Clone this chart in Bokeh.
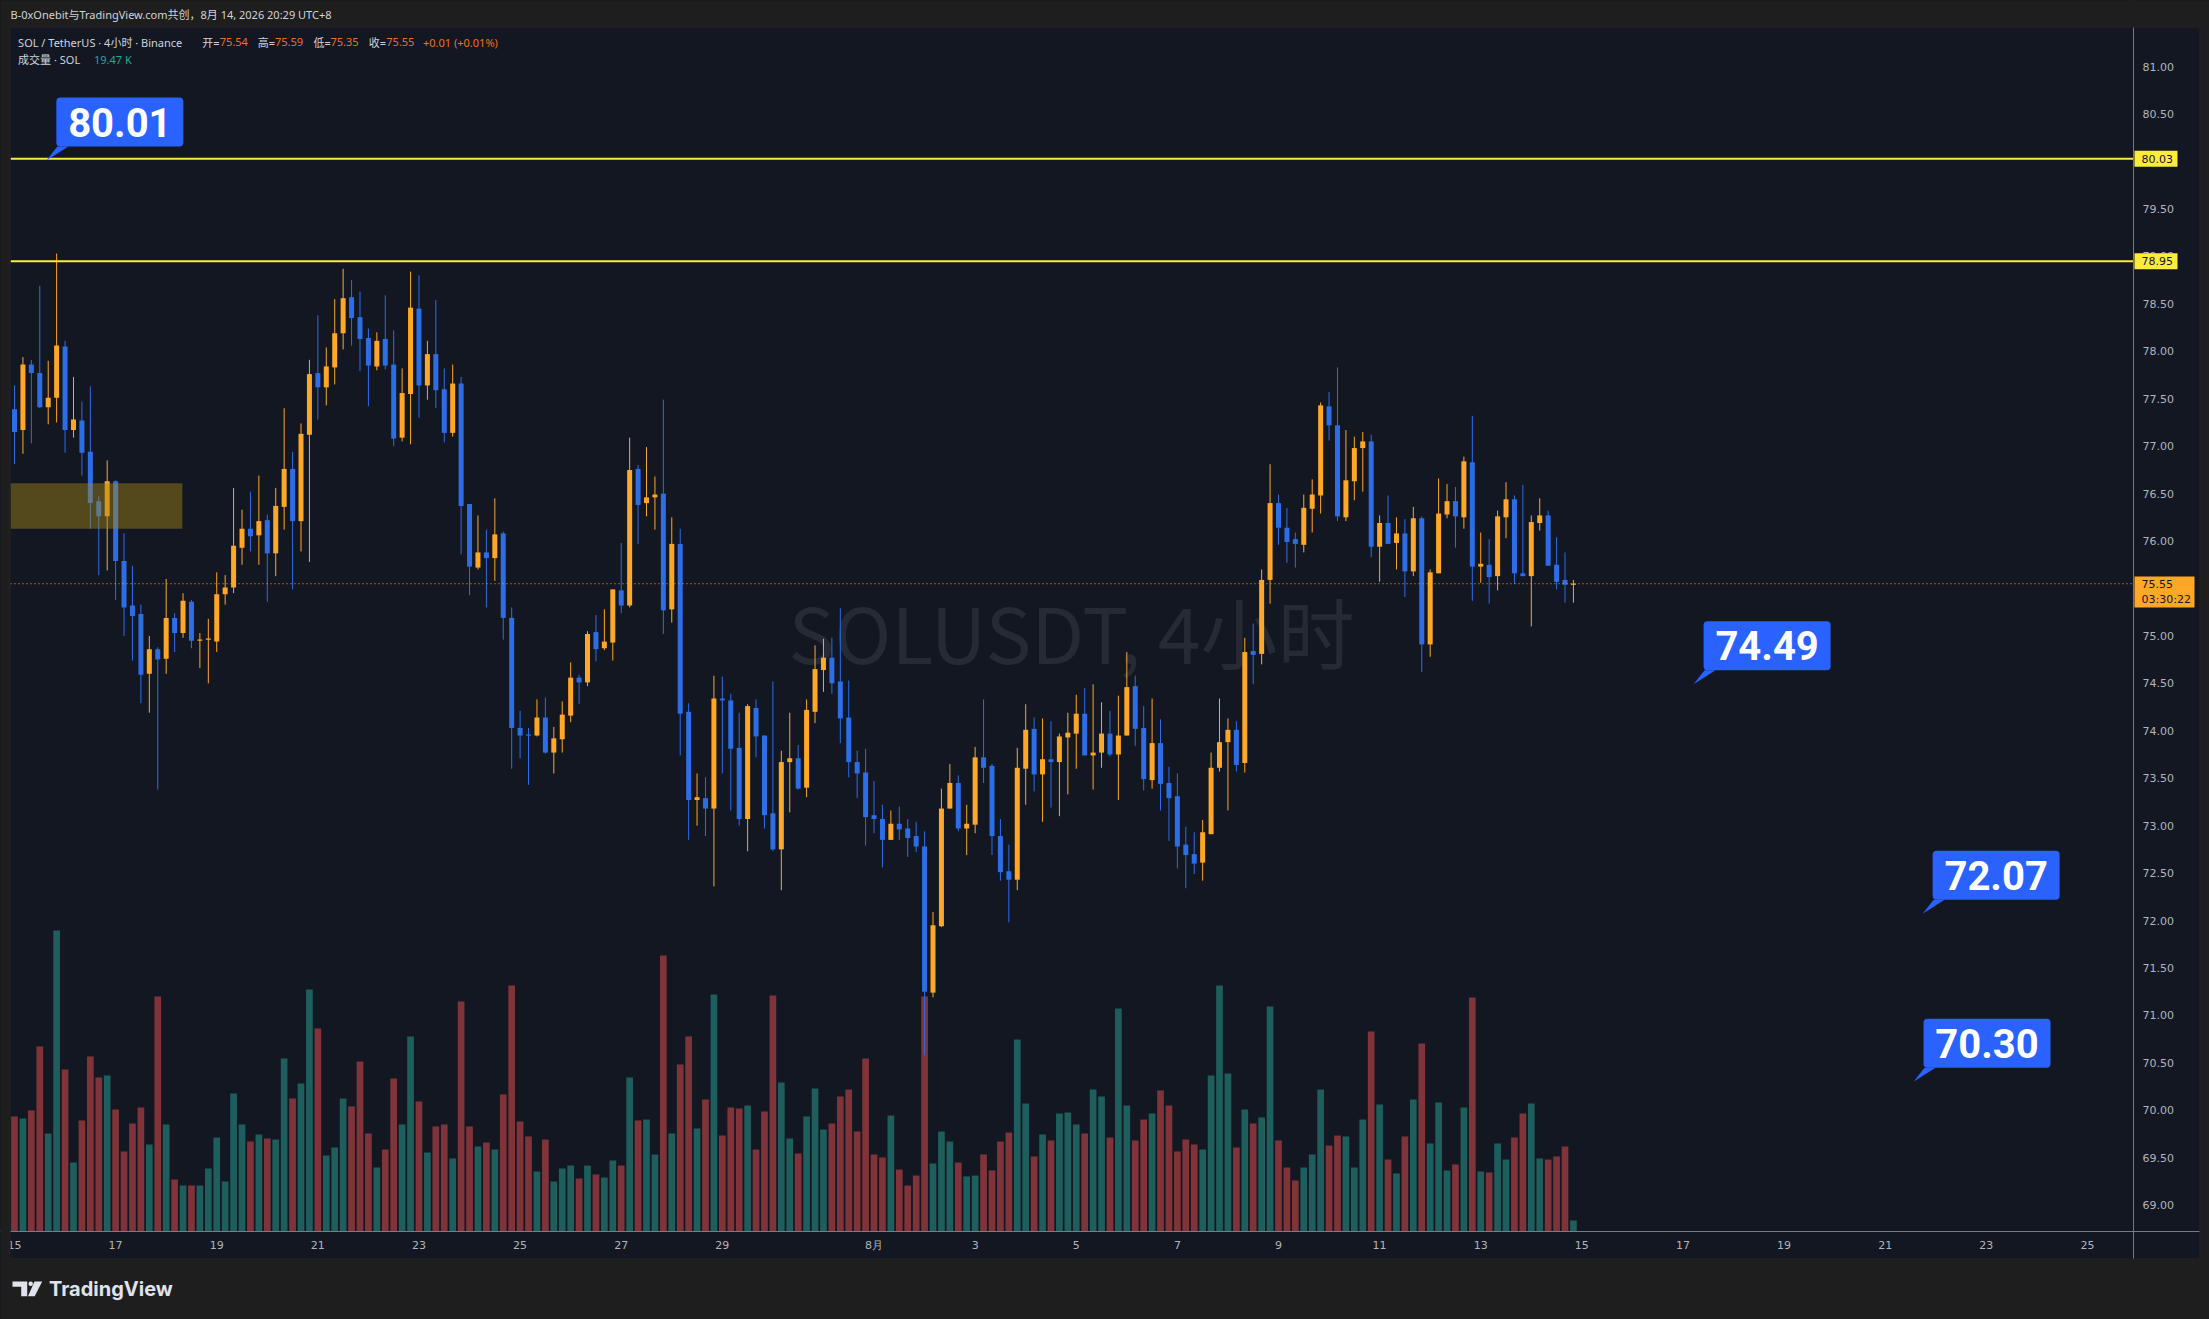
import numpy as np
from bokeh.plotting import figure
from bokeh.models import (Range1d, FixedTicker, NumeralTickFormatter, BoxAnnotation,
                          PolyAnnotation, Label, ColumnDataSource)
from bokeh.embed import file_html
from bokeh.resources import INLINE

# ---------------- data (SOL/USDT 4h, Binance) ----------------
opens = [77.39, 77.17, 77.86, 77.77, 77.41, 77.51, 78.05, 77.17, 77.27, 76.94,
         76.42, 76.26, 76.63, 75.79, 75.32, 75.23, 74.60, 74.86, 74.76, 75.19,
         75.03, 75.36, 74.95, 74.96, 74.94, 75.44, 75.51, 75.93, 76.13, 76.06,
         76.22, 75.87, 76.36, 76.76, 76.21, 77.12, 77.77, 77.62, 77.83, 78.19,
         78.57, 78.36, 78.14, 77.84, 78.13, 77.86, 77.09, 77.55, 78.45, 77.64,
         77.97, 77.60, 77.14, 77.66, 76.39, 75.72, 75.88, 75.82, 76.08, 75.19,
         74.03, 73.96, 73.95, 74.14, 73.77, 73.91, 74.16, 74.56, 74.51, 75.04,
         74.87, 74.93, 75.48, 75.32, 76.76, 76.40, 76.46, 76.50, 75.28, 75.97,
         74.20, 73.27, 73.29, 73.18, 74.34, 74.32, 73.82, 73.07, 74.24, 73.95,
         73.13, 72.75, 73.67, 73.71, 73.40, 74.20, 74.64, 74.77, 74.52, 74.14,
         73.67, 73.56, 73.11, 73.07, 72.85, 73.02, 72.97, 72.89, 72.78, 71.24,
         71.94, 73.18, 73.45, 72.97, 73.01, 73.72, 73.63, 72.89, 72.52, 72.43,
         73.60, 74.02, 73.54, 73.70, 73.67, 73.93, 73.97, 74.18, 73.74, 73.77,
         73.97, 73.75, 73.95, 74.47, 74.03, 73.48, 73.87, 73.45, 73.31, 72.80,
         72.70, 72.61, 72.91, 73.61, 73.88, 74.01, 73.66, 74.84, 74.81, 75.59,
         76.40, 76.14, 76.02, 75.96, 76.34, 76.48, 77.42, 77.22, 76.25, 76.63,
         76.98, 77.05, 75.94, 76.19, 75.98, 76.08, 75.68, 76.24, 74.91, 75.66,
         76.28, 76.42, 76.25, 76.83, 75.73, 75.75, 75.63, 76.25, 76.44, 75.66,
         75.63, 76.19, 76.27, 75.75, 75.59, 75.54]
highs = [77.64, 77.94, 77.91, 78.69, 77.90, 79.03, 78.11, 77.73, 77.47, 77.63,
         76.47, 76.85, 76.64, 76.08, 75.74, 75.33, 75.00, 74.88, 75.60, 75.24,
         75.45, 75.38, 75.03, 75.18, 75.67, 75.64, 76.56, 76.33, 76.52, 76.69,
         76.28, 76.56, 77.40, 76.94, 77.24, 77.91, 78.38, 78.04, 78.55, 78.87,
         78.75, 78.63, 78.24, 78.20, 78.59, 78.22, 77.82, 78.84, 78.80, 78.11,
         78.54, 77.82, 77.86, 77.73, 76.39, 76.27, 76.12, 76.45, 76.10, 75.30,
         74.21, 74.03, 74.33, 74.35, 74.04, 74.31, 74.72, 74.59, 75.05, 75.22,
         75.28, 75.49, 75.98, 77.09, 76.80, 76.99, 76.68, 77.49, 76.25, 76.13,
         74.29, 73.55, 73.51, 74.58, 74.57, 74.39, 74.19, 74.28, 74.33, 73.95,
         74.52, 73.79, 74.19, 73.85, 74.33, 74.90, 74.97, 74.98, 75.29, 74.53,
         73.79, 73.81, 73.47, 73.22, 73.16, 73.20, 73.07, 73.04, 72.94, 72.09,
         73.39, 73.65, 73.53, 73.22, 73.83, 74.33, 73.65, 73.07, 72.80, 73.82,
         74.28, 74.14, 74.13, 74.10, 73.97, 74.19, 74.38, 74.45, 74.49, 74.30,
         74.21, 74.37, 74.83, 74.58, 74.26, 74.34, 74.12, 73.62, 73.55, 72.99,
         72.93, 73.06, 73.77, 74.34, 74.13, 74.10, 74.98, 75.13, 75.70, 76.81,
         76.49, 76.35, 76.09, 76.49, 76.65, 77.46, 77.57, 77.83, 77.17, 77.10,
         77.15, 77.12, 76.27, 76.48, 76.25, 76.23, 76.36, 76.26, 75.70, 76.66,
         76.60, 76.57, 76.89, 77.32, 76.09, 76.02, 76.32, 76.62, 76.48, 76.59,
         76.27, 76.45, 76.32, 76.04, 75.88, 75.59]
lows = [76.81, 76.92, 77.03, 77.40, 77.23, 77.25, 76.93, 77.09, 76.69, 76.13,
        75.64, 75.69, 75.38, 75.00, 74.74, 74.29, 74.19, 73.38, 74.60, 74.83,
        74.98, 74.87, 74.66, 74.50, 74.83, 75.33, 75.45, 75.75, 75.89, 75.75,
        75.36, 75.63, 76.12, 75.49, 75.89, 75.78, 77.28, 77.43, 77.65, 78.02,
        78.06, 77.79, 77.42, 77.80, 77.81, 77.00, 77.05, 77.02, 77.30, 77.49,
        77.40, 77.04, 77.10, 75.86, 75.43, 75.70, 75.30, 75.58, 74.96, 73.60,
        73.71, 73.43, 73.94, 73.76, 73.55, 73.77, 74.09, 74.28, 74.47, 74.73,
        74.85, 74.74, 75.24, 75.30, 75.97, 76.26, 76.12, 75.02, 75.14, 73.74,
        72.85, 73.00, 72.89, 72.36, 73.55, 73.16, 73.00, 72.73, 73.72, 72.97,
        72.73, 72.32, 73.14, 73.38, 73.30, 74.08, 74.41, 74.39, 73.87, 73.51,
        73.29, 72.79, 72.92, 72.56, 72.85, 72.85, 72.67, 72.72, 70.58, 71.19,
        71.93, 73.18, 72.94, 72.69, 72.92, 73.45, 72.69, 72.42, 71.98, 72.32,
        73.22, 73.36, 73.04, 73.19, 73.10, 73.33, 73.60, 73.74, 73.38, 73.61,
        73.73, 73.27, 73.95, 73.84, 73.37, 73.39, 73.16, 72.84, 72.55, 72.34,
        72.49, 72.42, 72.91, 73.57, 73.16, 73.57, 73.56, 74.49, 74.70, 75.34,
        75.96, 75.77, 75.72, 75.88, 76.09, 76.29, 77.06, 76.21, 76.21, 76.43,
        76.52, 75.83, 75.57, 75.97, 75.70, 75.41, 75.63, 74.62, 74.78, 75.66,
        76.24, 75.93, 76.13, 75.37, 75.56, 75.34, 75.48, 76.03, 75.55, 75.63,
        75.10, 76.11, 75.74, 75.49, 75.35, 75.35]
closes = [77.15, 77.86, 77.77, 77.41, 77.51, 78.06, 77.17, 77.28, 76.93, 76.40,
          76.26, 76.63, 75.79, 75.30, 75.21, 74.59, 74.86, 74.75, 75.19, 75.03,
          75.37, 74.95, 74.96, 74.97, 75.44, 75.51, 75.95, 76.13, 76.05, 76.21,
          75.87, 76.37, 76.76, 76.21, 77.13, 77.76, 77.62, 77.84, 78.19, 78.56,
          78.35, 78.13, 77.85, 78.11, 77.85, 77.08, 77.56, 78.46, 77.64, 77.97,
          77.59, 77.14, 77.66, 76.37, 75.73, 75.88, 75.82, 76.07, 75.19, 74.03,
          73.95, 73.95, 74.14, 73.77, 73.92, 74.17, 74.56, 74.51, 75.02, 74.86,
          74.94, 75.49, 75.32, 76.75, 76.38, 76.46, 76.49, 75.27, 75.97, 74.18,
          73.27, 73.30, 73.18, 74.34, 74.32, 73.81, 73.07, 74.26, 73.94, 73.11,
          72.75, 73.67, 73.71, 73.39, 74.22, 74.65, 74.77, 74.50, 74.13, 73.67,
          73.55, 73.09, 73.07, 72.85, 73.02, 72.96, 72.87, 72.78, 71.25, 71.95,
          73.18, 73.45, 72.97, 73.02, 73.72, 73.61, 72.89, 72.51, 72.43, 73.61,
          74.01, 73.54, 73.70, 73.67, 73.94, 73.98, 74.18, 73.74, 73.77, 73.97,
          73.75, 73.95, 74.46, 74.02, 73.49, 73.87, 73.44, 73.29, 72.78, 72.69,
          72.60, 72.93, 73.61, 73.88, 74.01, 73.64, 74.83, 74.80, 75.59, 76.40,
          76.14, 75.99, 75.97, 76.35, 76.49, 77.43, 77.22, 76.26, 76.64, 76.98,
          77.05, 75.94, 76.19, 75.97, 76.08, 75.68, 76.24, 74.91, 75.67, 76.29,
          76.42, 76.26, 76.84, 75.73, 75.76, 75.62, 76.26, 76.44, 75.66, 75.63,
          76.20, 76.27, 75.74, 75.57, 75.54, 75.55]
volumes_k = [203.6, 200.0, 214.2, 327.5, 173.5, 532.8, 286.7, 122.1, 196.5, 309.8,
             272.6, 276.1, 215.9, 141.6, 191.2, 219.5, 154.0, 416.0, 189.4, 92.0,
             81.4, 81.4, 81.4, 111.5, 166.4, 88.5, 244.3, 189.4, 159.3, 171.7,
             164.6, 162.8, 306.2, 235.4, 262.0, 428.3, 359.3, 134.5, 148.7, 235.4,
             221.3, 300.9, 173.5, 113.3, 145.1, 270.8, 189.4, 345.2, 230.1, 139.8,
             185.9, 189.4, 129.2, 407.1, 185.9, 150.5, 157.5, 145.1, 242.5, 435.4,
             194.7, 168.2, 106.2, 162.8, 88.5, 111.5, 116.8, 93.8, 116.8, 100.9,
             95.6, 125.7, 116.8, 272.6, 196.5, 198.2, 136.3, 488.5, 173.5, 295.6,
             345.2, 182.3, 233.6, 419.5, 169.9, 219.5, 217.7, 223.0, 145.1, 212.4,
             417.7, 263.7, 164.6, 138.1, 203.6, 253.1, 180.5, 191.2, 239.0, 251.3,
             177.0, 306.2, 136.3, 131.0, 205.3, 109.7, 81.4, 99.1, 416.0, 120.4,
             177.0, 159.3, 122.1, 97.4, 99.1, 136.3, 108.0, 159.3, 175.2, 339.8,
             226.6, 132.8, 171.7, 161.1, 208.9, 210.6, 189.4, 173.5, 251.3, 239.0,
             166.4, 394.7, 223.0, 161.1, 198.2, 208.9, 249.6, 223.0, 141.6, 162.8,
             154.0, 145.1, 276.1, 435.4, 279.7, 148.7, 215.9, 191.2, 201.8, 398.3,
             161.1, 113.3, 90.3, 113.3, 136.3, 251.3, 152.2, 169.9, 168.2, 113.3,
             198.2, 354.0, 224.8, 127.4, 102.7, 168.2, 233.6, 332.8, 155.8, 228.3,
             108.0, 118.6, 219.5, 414.2, 106.2, 104.4, 155.8, 127.4, 166.4, 208.9,
             226.6, 129.2, 127.4, 132.8, 150.5, 19.47]
bar_hours = 4                      # candle interval, first candle Jul 15 00:00 (UTC+8)
date_tick_days = [0, 2, 4, 6, 8, 10, 12, 14, 17, 19, 21, 23, 25, 27, 29, 31, 33, 35, 37, 39, 41]
date_tick_labels = ["15", "17", "19", "21", "23", "25", "27", "29", "8月", "3", "5",
                    "7", "9", "11", "13", "15", "17", "19", "21", "23", "25"]
price_ticks = [69.0, 69.5, 70.0, 70.5, 71.0, 71.5, 72.0, 72.5, 73.0, 73.5, 74.0, 74.5,
               75.0, 75.5, 76.0, 76.5, 77.0, 77.5, 78.0, 78.5, 79.0, 79.5, 80.0, 80.5, 81.0]
level_lines = [80.03, 78.95]
last_price = 75.55
countdown = "03:30:22"
callout_values = [80.01, 74.49, 72.07, 70.30]
callout_days = [0.63, 33.21, 37.74, 37.56]
zone_top, zone_bottom, zone_end_day = 76.61, 76.13, 3.32
header_title = "B-0xOnebit与TradingView.com共创，8月 14, 2026 20:29 UTC+8"
symbol_text = "SOL / TetherUS · 4小时 · Binance"
volume_text = "成交量 · SOL"
watermark_text = "SOLUSDT, 4小时"

# ---------------- layout (page pixels -> data) ----------------
W, H = 2209, 1319
PXD = 50.56                      # px per day
PXP = 94.87                      # px per price unit
X0 = -14.0 / PXD                 # day 0 sits at page x = 14
X1 = X0 + W / PXD
Y1 = 81.413 + 27 / PXP           # price 81.413 sits at page y = 27
Y0 = Y1 - H / PXP
VPX = 1.77                       # volume (K) per px, base at page y = 1231


def X(px):
    return X0 + px / PXD


def Y(py):
    return Y1 - py / PXP


UP, DOWN = "#ffa726", "#2d6de6"
VUP, VDOWN = "#1e5f5d", "#80343a"
BG = "#131722"
PAGE = "#1e1e1e"
GREY_TXT = "#d1d4dc"
AX_TXT = "#b2b5be"

o = np.array(opens); hi = np.array(highs); lo = np.array(lows); c = np.array(closes)
n = len(o)
x = np.arange(n) * bar_hours / 24.0
up = c >= o
col = np.where(up, UP, DOWN)
vcol = np.where(up, VUP, VDOWN)
btop = np.maximum(o, c)
bbot = np.minimum(o, c)
minh = 1.2 / PXP
small = (btop - bbot) < minh
mid = (btop + bbot) / 2
btop = np.where(small, mid + minh / 2, btop)
bbot = np.where(small, mid - minh / 2, bbot)

src = ColumnDataSource(dict(x=x, o=o, h=hi, l=lo, c=c, top=btop, bot=bbot, col=col,
                            vol=np.array(volumes_k), vcol=vcol))

p = figure(width=W, height=H, x_range=Range1d(X0, X1), y_range=Range1d(Y0, Y1),
           y_axis_location="right", output_backend="svg", toolbar_location=None,
           title=None, min_border=0, min_border_left=0, min_border_top=0,
           min_border_right=0, min_border_bottom=0, background_fill_color=BG,
           border_fill_color=PAGE, outline_line_color=None)
p.xgrid.visible = False
p.ygrid.visible = False

try:
    from bokeh.models import GlobalInlineStyleSheet
    p.stylesheets = [GlobalInlineStyleSheet(css="html, body { background-color: #1e1e1e; }")]
except Exception:
    pass

# volume (overlay scale)
p.extra_y_ranges = {"vol": Range1d(-(H - 1231) * VPX, 1231 * VPX)}
p.vbar(x="x", width=0.132, top="vol", bottom=0, fill_color="vcol", line_color=None,
       y_range_name="vol", source=src)

# watermark
p.add_layout(Label(x=X(1071), y=Y(630), text=watermark_text, text_align="center",
                   text_baseline="middle", text_font="Noto Sans CJK SC",
                   text_font_size="77px", text_color="#262a35", level="underlay"))

# candles
p.segment(x0="x", y0="l", x1="x", y1="h", line_color="col", line_width=1, source=src)
p.vbar(x="x", width=0.099, top="top", bottom="bot", fill_color="col", line_color=None,
       source=src)

# horizontal level lines (stop at the price scale)
p.segment(x0=[X(10)] * len(level_lines), x1=[X(2133)] * len(level_lines),
          y0=level_lines, y1=level_lines, line_color="#ffeb3b", line_width=2)
p.segment(x0=[X(10)], x1=[X(2133)], y0=[last_price], y1=[last_price],
          line_color=UP, line_width=1, line_dash="1 3")

# zone box
p.add_layout(BoxAnnotation(left=X(10), right=zone_end_day, top=zone_top, bottom=zone_bottom,
                           fill_color="#a18819", fill_alpha=0.45, line_color=None))

# axes drawn at fixed locations inside the canvas
ax = p.yaxis[0]
ax.fixed_location = X(2133)
ax.ticker = FixedTicker(ticks=price_ticks)
ax.formatter = NumeralTickFormatter(format="0.00")
ax.major_tick_out = 0; ax.major_tick_in = 0; ax.minor_tick_out = 0; ax.minor_tick_in = 0
ax.major_label_standoff = 9
ax.major_label_text_font = "DejaVu Sans"
ax.major_label_text_font_size = "11px"
ax.major_label_text_color = AX_TXT
ax.axis_line_color = "#787b86"

bx = p.xaxis[0]
bx.fixed_location = Y(1231)
bx.ticker = FixedTicker(ticks=date_tick_days)
bx.major_label_overrides = {d: s for d, s in zip(date_tick_days, date_tick_labels)}
bx.major_tick_out = 0; bx.major_tick_in = 0; bx.minor_tick_out = 0; bx.minor_tick_in = 0
bx.major_label_standoff = 7
bx.major_label_text_font = "DejaVu Sans"
bx.major_label_text_font_size = "11px"
bx.major_label_text_color = AX_TXT
bx.axis_line_color = "#787b86"

# page frame (header, footer, side strips)
for l_, r_, t_, b_ in [(0, W, 0, 27), (0, W, 1258, H), (0, 10, 0, H), (2199, W, 0, H)]:
    p.add_layout(BoxAnnotation(left=X(l_), right=X(r_), top=Y(t_), bottom=Y(b_),
                               fill_color=PAGE, fill_alpha=1, line_color=None,
                               level="overlay"))
p.add_layout(BoxAnnotation(left=X(9.5), right=X(2199.5), top=Y(26.5), bottom=Y(1258.5),
                           fill_alpha=0, line_color="#2e2e2e", line_width=1, level="overlay"))

# price tags on the axis
for v in level_lines:
    p.add_layout(BoxAnnotation(left=X(2134), right=X(2177), bottom=v - 8 / PXP, top=v + 8 / PXP,
                               fill_color="#ffeb3b", fill_alpha=1, line_color=None,
                               level="overlay"))
    p.add_layout(Label(x=X(2141), y=v, text=f"{v:.2f}", text_baseline="middle",
                       text_font="DejaVu Sans", text_font_size="11px",
                       text_color="#131722", level="overlay"))
p.add_layout(BoxAnnotation(left=X(2134), right=X(2194), top=Y(576), bottom=Y(607),
                           fill_color=UP, fill_alpha=1, line_color=None, level="overlay"))
p.add_layout(Label(x=X(2141), y=last_price, text=f"{last_price:.2f}", text_baseline="middle",
                   text_font="DejaVu Sans", text_font_size="11px",
                   text_color="#131722", level="overlay"))
p.add_layout(Label(x=X(2141), y=Y(598.5), text=countdown, text_baseline="middle",
                   text_font="DejaVu Sans", text_font_size="11px",
                   text_color="#131722", level="overlay"))

# callouts
tx, ty = [], []
for v, d in zip(callout_values, callout_days):
    left = d + 10 / PXD
    bottom = v + 14 / PXP
    right = left + 127 / PXD
    top = bottom + 49 / PXP
    tx.append([d, left + 1 / PXD, left + 12 / PXD])
    ty.append([v, bottom, bottom])
    p.add_layout(BoxAnnotation(left=left, right=right, bottom=bottom, top=top,
                               fill_color="#2962ff", fill_alpha=1, line_color=None,
                               border_radius=4, level="overlay"))
    p.add_layout(Label(x=(left + right) / 2, y=(bottom + top) / 2, text=f"{v:.2f}",
                       text_align="center", text_baseline="middle",
                       text_font="Roboto", text_font_style="bold",
                       text_font_size="40px", text_color="white", level="overlay"))
p.patches(tx, ty, fill_color="#2962ff", line_color=None)


# header / legend texts
def txt(xp, yp, s, color, size="11px", font="Noto Sans, Noto Sans CJK SC", style="normal",
        baseline="middle"):
    p.add_layout(Label(x=X(xp), y=Y(yp), text=s, text_baseline=baseline,
                       text_font=font, text_font_size=size, text_color=color,
                       text_font_style=style, level="overlay"))


VAL = "#f0701e"
txt(10, 14, header_title, GREY_TXT)
txt(17.6, 41.5, symbol_text, GREY_TXT)
txt(201.7, 41.5, "开=", GREY_TXT)
txt(219.3, 41.5, f"{opens[-1]:.2f}", VAL)
txt(257.2, 41.5, "高=", GREY_TXT)
txt(274.4, 41.5, f"{highs[-1]:.2f}", VAL)
txt(313.0, 41.5, "低=", GREY_TXT)
txt(329.9, 41.5, f"{lows[-1]:.2f}", VAL)
txt(368.2, 41.5, "收=", GREY_TXT)
txt(385.8, 41.5, f"{closes[-1]:.2f}", VAL)
chg = closes[-1] - opens[-1]
txt(422.5, 41.5, f"+{chg:.2f} (+{chg / opens[-1] * 100:.2f}%)", VAL)
txt(17.6, 58.5, volume_text, GREY_TXT)
txt(93.4, 58.5, f"{volumes_k[-1]:.2f} K", "#26a69a")

# footer logo
LOGO = "#e0e3eb"
logo_polys = [
    [(12, 1281), (26.7, 1281), (26.7, 1295.7), (20.7, 1295.7), (20.7, 1286.3), (12, 1286.3)],
    [(34, 1281), (41.7, 1281), (34.2, 1295.7), (27.5, 1295.7)],
]
for poly in logo_polys:
    p.add_layout(PolyAnnotation(xs=[X(a) for a, _ in poly], ys=[Y(b) for _, b in poly],
                                fill_color=LOGO, fill_alpha=1, line_color=None,
                                level="overlay"))
p.add_layout(BoxAnnotation(left=X(28), right=X(32.4), top=Y(1281), bottom=Y(1285.4),
                           fill_color=LOGO, fill_alpha=1, line_color=None,
                           border_radius=2, level="overlay"))
txt(48.5, 1288.5, "TradingView", LOGO, size="20px", font="Inter", style="bold")

open("out.html", "w").write(file_html(p, INLINE))
